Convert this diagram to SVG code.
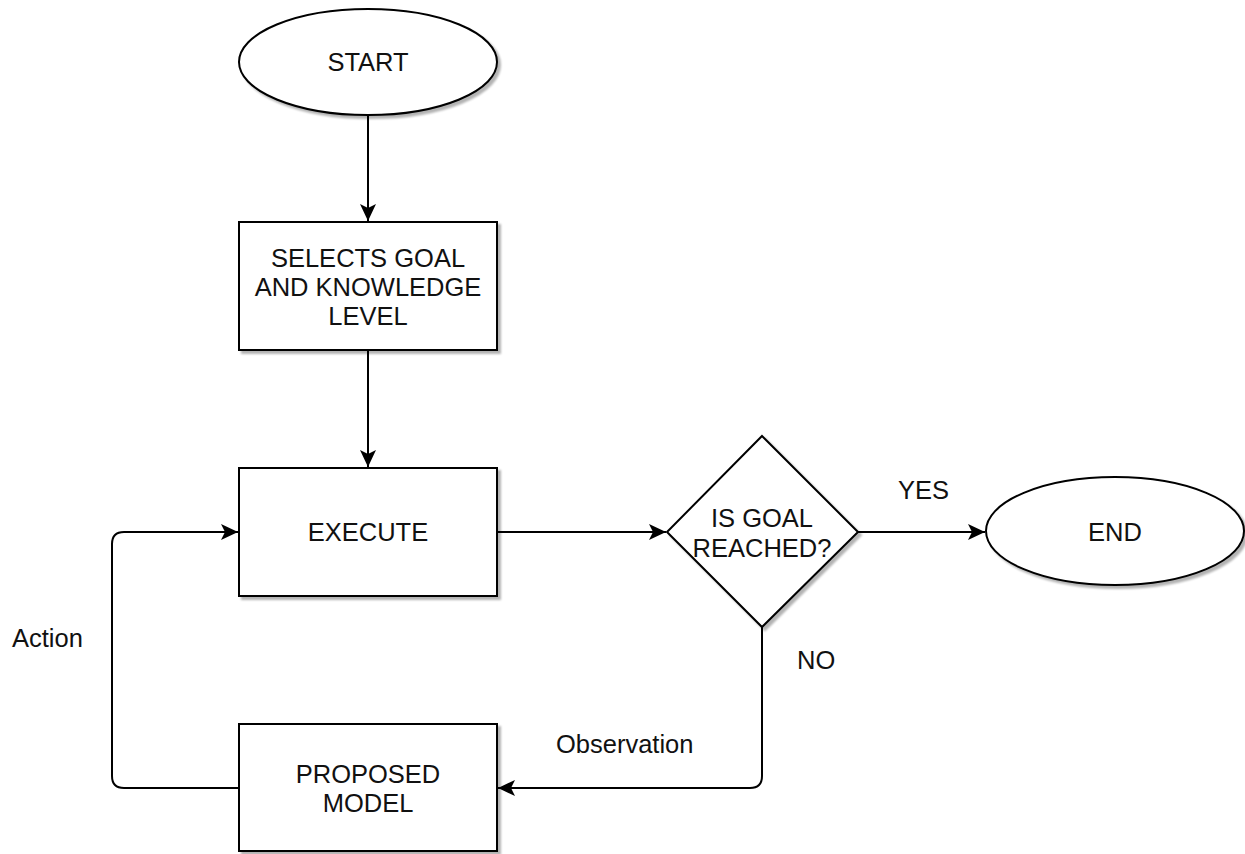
<svg xmlns="http://www.w3.org/2000/svg" width="1245" height="854" viewBox="0 0 1245 854">
<style>
.shape{fill:#ffffff;stroke:#000000;stroke-width:2}
.edge{fill:none;stroke:#000000;stroke-width:2}
text{font-family:"Liberation Sans",Arial,sans-serif;font-size:25.5px;fill:#111111}
.c{text-anchor:middle}
</style>
<defs>
<filter id="sh" x="-10%" y="-10%" width="130%" height="130%">
<feGaussianBlur in="SourceAlpha" stdDeviation="1.2"/>
<feOffset dx="3" dy="3" result="o"/>
<feComponentTransfer><feFuncA type="linear" slope="0.3"/></feComponentTransfer>
<feMerge><feMergeNode/><feMergeNode in="SourceGraphic"/></feMerge>
</filter>
<marker id="arr" markerUnits="userSpaceOnUse" markerWidth="22" markerHeight="22" viewBox="0 0 22 22" refX="19" refY="11" orient="auto">
<path d="M2,3 L19,11 L2,19 L6,11 Z" fill="#000"/>
</marker>
</defs>
<g id="connectors">
<path class="edge" d="M368,115 V221" marker-end="url(#arr)"/>
<path class="edge" d="M368,350 V467" marker-end="url(#arr)"/>
<path class="edge" d="M497,532 H666" marker-end="url(#arr)"/>
<path class="edge" d="M858,532 H985" marker-end="url(#arr)"/>
<path class="edge" d="M762,627 V776 Q762,788 750,788 H498" marker-end="url(#arr)"/>
<path class="edge" d="M238,788 H124 Q112,788 112,776 V544 Q112,532 124,532 H238" marker-end="url(#arr)"/>
</g>
<g id="start">
<ellipse class="shape" cx="368" cy="62" rx="129" ry="53" filter="url(#sh)"/>
<text class="c" x="368" y="71">START</text>
</g>
<g id="selects">
<rect class="shape" x="239" y="222" width="258" height="128" filter="url(#sh)"/>
<text class="c" x="368" y="267">SELECTS GOAL</text>
<text class="c" x="368" y="296">AND KNOWLEDGE</text>
<text class="c" x="368" y="325">LEVEL</text>
</g>
<g id="execute">
<rect class="shape" x="239" y="468" width="258" height="128" filter="url(#sh)"/>
<text class="c" x="368" y="541">EXECUTE</text>
</g>
<g id="decision">
<path class="shape" d="M762,436 L858,532 L762,627 L667,532 Z" filter="url(#sh)"/>
<text class="c" x="762" y="527">IS GOAL</text>
<text class="c" x="762" y="557">REACHED?</text>
</g>
<g id="end">
<ellipse class="shape" cx="1115" cy="531" rx="129" ry="54" filter="url(#sh)"/>
<text class="c" x="1115" y="541">END</text>
</g>
<g id="proposed">
<rect class="shape" x="239" y="724" width="258" height="127" filter="url(#sh)"/>
<text class="c" x="368" y="783">PROPOSED</text>
<text class="c" x="368" y="812">MODEL</text>
</g>
<g id="labels">
<text x="12" y="647">Action</text>
<text x="556" y="753">Observation</text>
<text x="797" y="669">NO</text>
<text x="898" y="499">YES</text>
</g>
</svg>
